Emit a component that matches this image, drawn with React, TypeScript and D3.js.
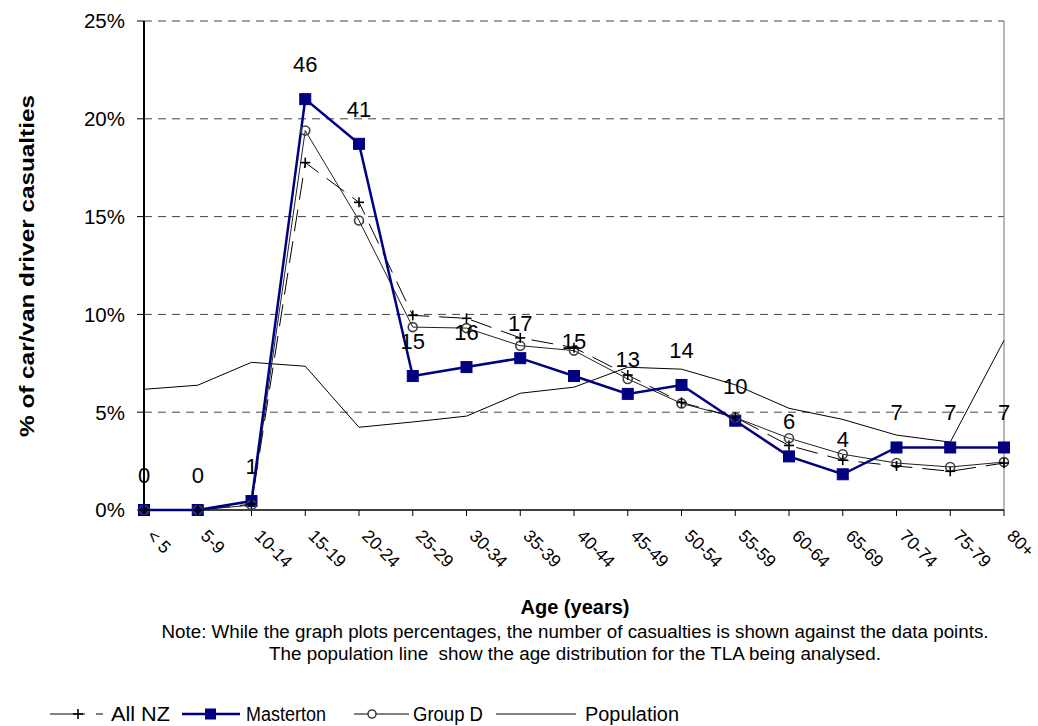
import React from "react";
import * as d3 from "d3";

const categories = ["< 5","5-9","10-14","15-19","20-24","25-29","30-34","35-39","40-44","45-49","50-54","55-59","60-64","65-69","70-74","75-79","80+"];
const mastertonCounts = [0,0,1,46,41,15,16,17,15,13,14,10,6,4,7,7,7];
const mastertonTotal = 219;
const allNZ = [0,0,0.3,17.76,15.73,9.95,9.8,8.8,8.3,6.9,5.5,4.74,3.3,2.55,2.25,1.98,2.4];
const groupD = [0,0,0.25,19.4,14.8,9.35,9.3,8.4,8.15,6.7,5.45,4.73,3.67,2.85,2.4,2.2,2.45];
const population = [6.17,6.38,7.55,7.35,4.23,4.5,4.8,5.97,6.28,7.3,7.2,6.4,5.2,4.63,3.83,3.47,8.67];
const yTicks = [0,5,10,15,20,25];
const masterton = mastertonCounts.map(c => (c / mastertonTotal) * 100);

const FONT = "'Liberation Sans', Arial, Helvetica, sans-serif";

export default function App() {
  const W = 1038, H = 726;
  const x = d3.scalePoint<string>().domain(categories).range([144, 1004]);
  const y = d3.scaleLinear().domain([0, 25]).range([510, 21]);
  const line = d3.line<number>().x((_, i) => x(categories[i])!).y(d => y(d));
  const navy = "#000080";

  return (
    <svg width={W} height={H} style={{ position: "absolute", left: 0, top: 0, fontFamily: FONT }}>
      <rect x={0} y={0} width={W} height={H} fill="#fff" />
      {yTicks.filter(t => t > 0).map(t => (
        <line key={t} x1={144} x2={1004} y1={y(t)} y2={y(t)} stroke="#444" strokeWidth={1} strokeDasharray="8,6" />
      ))}
      <line x1={1004} x2={1004} y1={y(25)} y2={y(0)} stroke="#888" strokeWidth={1.2} />
      <line x1={144} x2={144} y1={y(25)} y2={y(0)} stroke="#000" strokeWidth={2} />
      {yTicks.map(t => (
        <g key={t}>
          <line x1={137} x2={144} y1={y(t)} y2={y(t)} stroke="#000" strokeWidth={1} />
          <text x={125} y={y(t)} dy="0.36em" textAnchor="end" fontSize={20.5} fill="#000">{t}%</text>
        </g>
      ))}
      <line x1={144} x2={1004} y1={y(0)} y2={y(0)} stroke="#000" strokeWidth={1.5} />
      {categories.map(c => (
        <g key={c}>
          <line x1={x(c)} x2={x(c)} y1={y(0)} y2={y(0) + 6} stroke="#000" strokeWidth={1} />
          <text transform={`translate(${x(c)! + 2},${537}) rotate(45)`} fontSize={17.5} fill="#000">{c}</text>
        </g>
      ))}
      <path d={line(population)!} fill="none" stroke="#000" strokeWidth={1} />
      <path d={line(allNZ)!} fill="none" stroke="#000" strokeWidth={1} strokeDasharray="22,10" />
      <path d={line(groupD)!} fill="none" stroke="#222" strokeWidth={1} />
      <path d={line(masterton)!} fill="none" stroke={navy} strokeWidth={2.5} />
      {masterton.map((v, i) => (
        <rect key={i} x={x(categories[i])! - 5.5} y={y(v) - 5.5} width={11} height={11} fill={navy} stroke={navy} />
      ))}
      {groupD.map((v, i) => (
        <circle key={i} cx={x(categories[i])!} cy={y(v)} r={4.5} fill="none" stroke="#404040" strokeWidth={1.6} />
      ))}
      {allNZ.map((v, i) => {
        const cx = x(categories[i])!, cy = y(v);
        return (
          <g key={i} stroke="#000" strokeWidth={1.6}>
            <line x1={cx - 5} x2={cx + 5} y1={cy} y2={cy} />
            <line x1={cx} x2={cx} y1={cy - 5} y2={cy + 5} />
          </g>
        );
      })}
      {mastertonCounts.map((c, i) => (
        <text key={i} x={x(categories[i])} y={y(masterton[i]) - 27} textAnchor="middle" fontSize={22} fill="#000">{c}</text>
      ))}
      <text transform={`translate(34,266) rotate(-90)`} textAnchor="middle" fontSize={21} fontWeight="bold" fill="#000" textLength={342} lengthAdjust="spacingAndGlyphs">% of car/van driver casualties</text>
      <text x={575} y={614} textAnchor="middle" fontSize={20} fontWeight="bold" fill="#000">Age (years)</text>
      <text x={575} y={638} textAnchor="middle" fontSize={17.5} fill="#000" style={{ whiteSpace: "pre" }} textLength={827} lengthAdjust="spacingAndGlyphs">Note: While the graph plots percentages, the number of casualties is shown against the data points.</text>
      <text x={575} y={660} textAnchor="middle" fontSize={17.5} fill="#000" style={{ whiteSpace: "pre" }} textLength={612} lengthAdjust="spacingAndGlyphs">The population line  show the age distribution for the TLA being analysed.</text>
      <g fontSize={20} fill="#000">
        <line x1={50} x2={85} y1={714} y2={714} stroke="#000" strokeWidth={1} />
        <line x1={96} x2={103} y1={714} y2={714} stroke="#000" strokeWidth={1} />
        <line x1={73} x2={83} y1={714} y2={714} stroke="#000" strokeWidth={1.6} />
        <line x1={78} x2={78} y1={709} y2={719} stroke="#000" strokeWidth={1.6} />
        <text x={111} y={714} dy="0.36em" textLength={59} lengthAdjust="spacingAndGlyphs">All NZ</text>

        <line x1={182} x2={240} y1={714} y2={714} stroke={navy} strokeWidth={2.5} />
        <rect x={205} y={708.5} width={11} height={11} fill={navy} />
        <text x={246} y={714} dy="0.36em" textLength={80} lengthAdjust="spacingAndGlyphs">Masterton</text>

        <line x1={354} x2={409} y1={714} y2={714} stroke="#000" strokeWidth={1} />
        <circle cx={372} cy={714} r={4} fill="#fff" stroke="#404040" strokeWidth={1.6} />
        <text x={413} y={714} dy="0.36em" textLength={70} lengthAdjust="spacingAndGlyphs">Group D</text>

        <line x1={496} x2={576} y1={714} y2={714} stroke="#000" strokeWidth={1} />
        <text x={585} y={714} dy="0.36em" textLength={94} lengthAdjust="spacingAndGlyphs">Population</text>
      </g>
    </svg>
  );
}
